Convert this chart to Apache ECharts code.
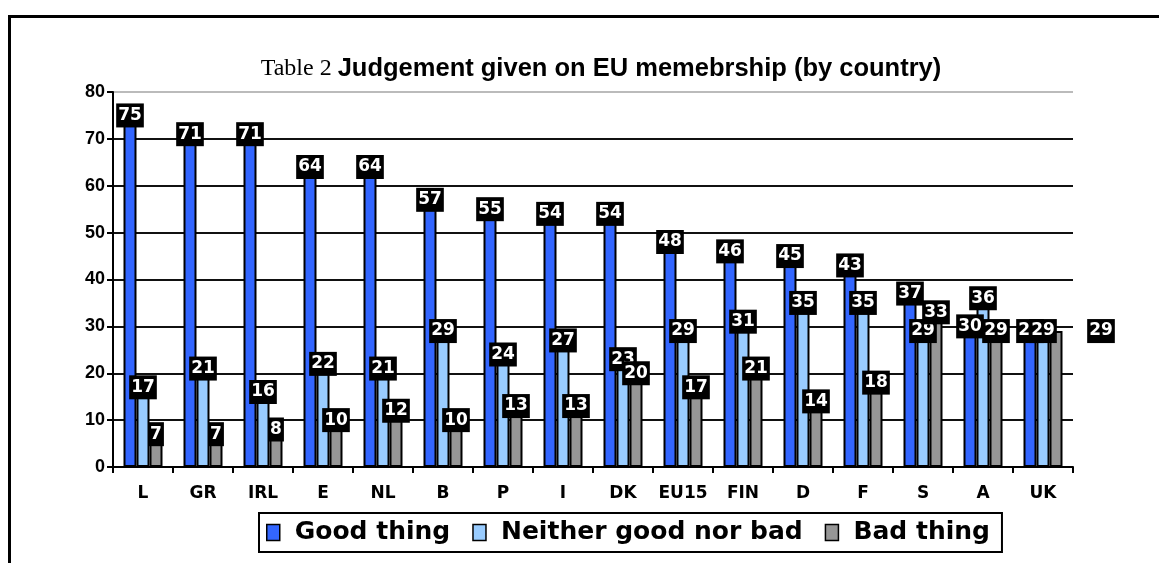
<!DOCTYPE html>
<html>
<head>
<meta charset="utf-8">
<script src="https://cdn.jsdelivr.net/npm/echarts@6/dist/echarts.min.js"></script>
<style>
  html, body { margin: 0; padding: 0; background: #fff; }
  #chart-container { width: 1159px; height: 563px; }
</style>
</head>
<body>
<div id="chart-container"></div>
<script>
var countries = ["L", "GR", "IRL", "E", "NL", "B", "P", "I", "DK", "EU15", "FIN", "D", "F", "S", "A", "UK"];
var goodThing = [75, 71, 71, 64, 64, 57, 55, 54, 54, 48, 46, 45, 43, 37, 30, 29];
var neither = [17, 21, 16, 22, 21, 29, 24, 27, 23, 29, 31, 35, 35, 29, 36, 29];
var badThing = [7, 7, 8, 10, 12, 10, 13, 13, 20, 17, 21, 14, 18, 33, 29, 29];
var yTicks = [0, 10, 20, 30, 40, 50, 60, 70, 80];

var dom = document.getElementById("chart-container");
var myChart = echarts.init(dom, null, { renderer: "canvas" });

var valueLabel = {
  show: true,
  position: ["50%", 0],
  align: "center",
  verticalAlign: "middle",
  color: "#fff",
  backgroundColor: "#000",
  fontFamily: "DejaVu Sans",
  fontWeight: "bold",
  fontSize: 17,
  padding: [4, 2, 3, 2]
};

function makeSeries(name, values, color) {
  return {
    name: name,
    type: "bar",
    barWidth: 13,
    barGap: "0%",
    data: values,
    itemStyle: { color: color, borderColor: "#000", borderWidth: 2 },
    label: valueLabel
  };
}

var badSeries = makeSeries("Bad thing", badThing.map(function (v, i) {
  // the last label sits off to the right in the original
  if (i === badThing.length - 1) return { value: v, label: { offset: [45, 0] } };
  return v;
}), "#969696");

var option = {
  animation: false,
  title: {
    text: "{a|Table 2 }{b|Judgement given on EU memebrship (by country)}",
    left: 596,
    top: 51,
    textAlign: "center",
    textStyle: {
      fontWeight: "normal",
      rich: {
        a: { fontFamily: "Liberation Serif", fontWeight: "normal", fontSize: 24, color: "#000" },
        b: { fontFamily: "Liberation Sans", fontWeight: "bold", fontSize: 25.5, color: "#000" }
      }
    }
  },
  legend: {
    bottom: 11,
    left: 259,
    data: ["Good thing", "Neither good nor bad", "Bad thing"],
    icon: "rect",
    itemWidth: 13,
    itemHeight: 16,
    itemGap: 22,
    padding: [7, 12, 7, 7],
    borderColor: "#000",
    borderWidth: 2,
    itemStyle: { borderColor: "#000", borderWidth: 1.5 },
    textStyle: { fontFamily: "DejaVu Sans", fontWeight: "bold", fontSize: 25, color: "#000", padding: [0, 0, 0, 10] }
  },
  grid: { left: 113, right: 86, top: 92, bottom: 96 },
  xAxis: {
    type: "category",
    data: countries,
    axisLine: { lineStyle: { color: "#000", width: 2 } },
    axisTick: { show: true, length: 6, lineStyle: { color: "#000", width: 2 } },
    axisLabel: { interval: 0, fontFamily: "DejaVu Sans", fontWeight: "bold", fontSize: 17, color: "#000", margin: 18 }
  },
  yAxis: {
    type: "value",
    min: 0,
    max: 80,
    interval: 10,
    axisLine: { show: true, lineStyle: { color: "#000", width: 2 } },
    axisTick: { show: true, length: 6, lineStyle: { color: "#000", width: 2 } },
    axisLabel: {
      fontFamily: "Liberation Sans", fontWeight: "bold", fontSize: 18, color: "#000", margin: 8,
      formatter: function (v) { return yTicks.indexOf(v) >= 0 ? String(v) : ""; }
    },
    splitLine: {
      lineStyle: {
        color: ["#bbb", "#111", "#111", "#111", "#111", "#111", "#111", "#111", "#bbb"],
        width: 2
      }
    }
  },
  graphic: [
    { type: "line", shape: { x1: 9, y1: 16.5, x2: 1159, y2: 16.5 }, style: { stroke: "#000", lineWidth: 3 } },
    { type: "line", shape: { x1: 9.5, y1: 15, x2: 9.5, y2: 563 }, style: { stroke: "#000", lineWidth: 3 } }
  ],
  series: [
    makeSeries("Good thing", goodThing, "#3366FF"),
    makeSeries("Neither good nor bad", neither, "#99CCFF"),
    badSeries
  ]
};

myChart.setOption(option);
window.addEventListener("resize", myChart.resize);
</script>
</body>
</html>
